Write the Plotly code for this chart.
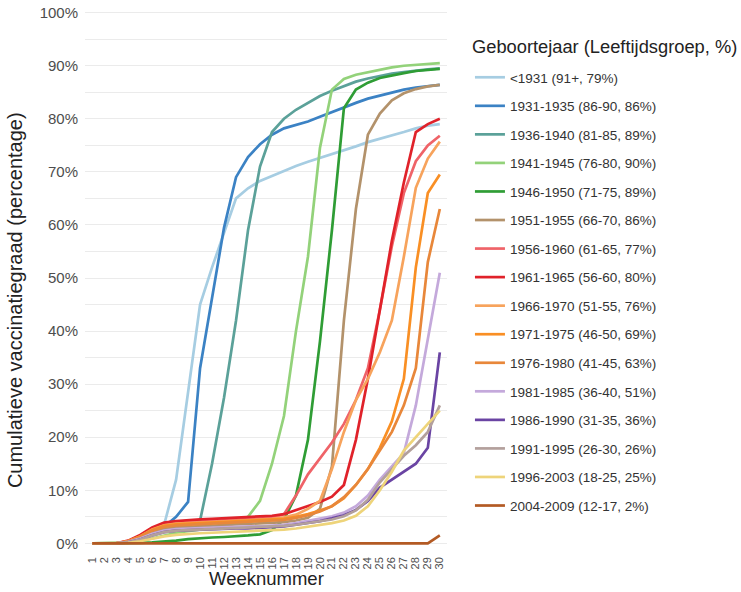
import plotly.graph_objects as go

weeks = list(range(1, 31))
week_labels = [str(w) for w in weeks]
y_ticks = list(range(0, 101, 10))
y_tick_labels = [f"{v}%" for v in y_ticks]

legend_title = "Geboortejaar (Leeftijdsgroep, %)"
series_names = [
    "<1931 (91+, 79%)",
    "1931-1935 (86-90, 86%)",
    "1936-1940 (81-85, 89%)",
    "1941-1945 (76-80, 90%)",
    "1946-1950 (71-75, 89%)",
    "1951-1955 (66-70, 86%)",
    "1956-1960 (61-65, 77%)",
    "1961-1965 (56-60, 80%)",
    "1966-1970 (51-55, 76%)",
    "1971-1975 (46-50, 69%)",
    "1976-1980 (41-45, 63%)",
    "1981-1985 (36-40, 51%)",
    "1986-1990 (31-35, 36%)",
    "1991-1995 (26-30, 26%)",
    "1996-2003 (18-25, 25%)",
    "2004-2009 (12-17, 2%)",
]

colors = [
    "#a6cde2", "#3b82c4", "#5ba199", "#93d27a", "#2f9d35", "#b3926b",
    "#ef6368", "#e0222a", "#f7a35c", "#f98f24", "#e8873a", "#c4a9db",
    "#6a44a3", "#b3a09c", "#eed47a", "#b35a24",
]

v_lt1931 = [0, 0, 0, 0.3, 1.0, 2.0, 3.5, 12, 29, 45, 52, 58.5, 65, 66.9, 68.3, 69.2, 70.2, 71.1, 71.9, 72.6, 73.3, 74, 74.8, 75.6, 76.2, 76.8, 77.5, 78.2, 78.7, 79]
v_1931 = [0, 0, 0, 0.3, 1.1, 2.1, 3.1, 5, 7.8, 33, 46.5, 59.5, 69, 72.8, 75.2, 77, 78.2, 78.8, 79.5, 80.4, 81.3, 82.2, 83, 83.8, 84.4, 85, 85.5, 85.9, 86.2, 86.4]
v_1936 = [0, 0, 0, 0.2, 0.8, 1.8, 2.6, 3.0, 3.4, 4.3, 15, 27.5, 42, 59, 71, 77.5, 80, 81.7, 83, 84.3, 85.3, 86.2, 87, 87.6, 88.1, 88.5, 88.8, 89.1, 89.3, 89.5]
v_1941 = [0, 0, 0, 0.1, 0.4, 0.9, 1.5, 2.0, 2.3, 2.6, 2.9, 3.2, 3.8, 5, 8, 15, 24, 40, 54, 74.5, 85.5, 87.5, 88.3, 88.8, 89.3, 89.7, 90, 90.2, 90.4, 90.5]
v_1946 = [0, 0, 0, 0, 0.1, 0.2, 0.3, 0.5, 0.8, 1.0, 1.1, 1.2, 1.3, 1.5, 1.7, 2.5, 4.5, 9, 19.5, 38, 59, 82, 85.5, 86.8, 87.7, 88.2, 88.6, 89, 89.2, 89.4]
v_1951 = [0, 0, 0, 0.3, 1.0, 2.0, 2.7, 3.0, 3.1, 3.2, 3.3, 3.4, 3.5, 3.6, 3.7, 3.8, 4.0, 4.3, 4.8, 6.5, 14.5, 42, 63, 77, 81, 83.5, 84.8, 85.6, 86.1, 86.4]
v_1956 = [0, 0, 0, 0.4, 1.3, 2.7, 3.5, 3.8, 4.0, 4.1, 4.2, 4.3, 4.4, 4.5, 4.6, 4.8, 5.5, 9, 13, 16, 19, 22.5, 27, 33, 44, 56, 66, 72, 75, 76.8]
v_1961 = [0, 0, 0, 0.5, 1.6, 3.0, 3.9, 4.2, 4.4, 4.5, 4.6, 4.7, 4.8, 4.9, 5.0, 5.2, 5.5, 6.3, 7.0, 7.8, 8.8, 11, 19.5, 31, 44, 57, 68, 77.5, 79, 80]
v_1966 = [0, 0, 0, 0.4, 1.3, 2.6, 3.4, 3.7, 3.8, 3.9, 4.0, 4.1, 4.2, 4.3, 4.4, 4.6, 4.9, 5.4, 6.5, 8, 14, 21, 27, 31, 36, 42, 54, 67, 72.5, 75.7]
v_1971 = [0, 0, 0, 0.4, 1.3, 2.5, 3.3, 3.6, 3.7, 3.8, 3.9, 4.0, 4.1, 4.2, 4.3, 4.4, 4.6, 5.0, 5.5, 6.2, 7, 8.5, 11, 14, 18, 23, 31, 52, 66, 69.5]
v_1976 = [0, 0, 0, 0.4, 1.2, 2.4, 3.1, 3.4, 3.5, 3.6, 3.7, 3.8, 3.9, 4.0, 4.1, 4.2, 4.4, 4.8, 5.3, 6, 7, 8.7, 11, 14, 17.5, 21, 26, 33, 53, 63]
v_1981 = [0, 0, 0, 0.3, 0.9, 1.8, 2.4, 2.7, 2.8, 2.9, 3.0, 3.1, 3.1, 3.2, 3.2, 3.3, 3.5, 3.8, 4.2, 4.6, 5.1, 5.8, 7, 9, 12, 14.5, 17, 26, 38.5, 51]
v_1986 = [0, 0, 0, 0.2, 0.7, 1.5, 2.1, 2.4, 2.5, 2.6, 2.7, 2.7, 2.8, 2.8, 2.9, 3.0, 3.2, 3.5, 3.8, 4.2, 4.7, 5.3, 6.3, 8, 10.5, 12, 13.5, 15, 18, 36]
v_1991 = [0, 0, 0, 0.2, 0.7, 1.5, 2.1, 2.4, 2.5, 2.6, 2.7, 2.8, 2.8, 2.9, 3.0, 3.1, 3.3, 3.5, 3.8, 4.1, 4.5, 5.1, 6.2, 8.2, 11.5, 14, 16.5, 18.5, 21, 26]
v_1996 = [0, 0, 0, 0.1, 0.4, 0.9, 1.3, 1.6, 1.8, 1.9, 2.0, 2.1, 2.2, 2.3, 2.3, 2.4, 2.6, 2.8, 3.1, 3.4, 3.8, 4.3, 5.2, 7, 10, 13.5, 17.5, 20, 22.5, 25]
v_2004 = [0, 0, 0, 0, 0, 0, 0, 0, 0, 0, 0, 0, 0, 0, 0, 0, 0, 0, 0, 0, 0, 0, 0, 0, 0, 0, 0, 0, 0, 1.5]

series_values = [v_lt1931, v_1931, v_1936, v_1941, v_1946, v_1951, v_1956, v_1961,
                 v_1966, v_1971, v_1976, v_1981, v_1986, v_1991, v_1996, v_2004]

FONT = "Liberation Sans, Arial, sans-serif"

fig = go.Figure()
for name, col, vals in zip(series_names, colors, series_values):
    fig.add_trace(go.Scatter(
        x=weeks, y=vals, mode="lines", name=name, legendgroup=name,
        line=dict(color=col, width=2.7),
    ))

fig.update_layout(
    width=741, height=592,
    margin=dict(l=85, r=294, t=10, b=46),
    paper_bgcolor="white", plot_bgcolor="white",
    font=dict(family=FONT, color="#333333"),
    showlegend=True,
    legend=dict(
        x=1.0634, xanchor="left", y=0.903, yanchor="top",
        font=dict(size=13.5, color="#333333"),
        tracegroupgap=8,
        bgcolor="rgba(0,0,0,0)",
    ),
    xaxis=dict(
        range=[0.4, 30.6], tickmode="array", tickvals=weeks, ticktext=week_labels,
        tickangle=-90, showgrid=False, zeroline=False, showline=False, ticks="",
        ticklabelstandoff=8,
        tickfont=dict(size=11, color="#4d4d4d"), automargin=False,
    ),
    yaxis=dict(
        range=[-0.5, 100.5], tickmode="array", tickvals=y_ticks, ticktext=y_tick_labels,
        showgrid=True, gridcolor="#ebebeb", gridwidth=1.2, zeroline=False, showline=False,
        ticks="", ticklabelstandoff=6, ticklabeloverflow="allow",
        tickfont=dict(size=15, color="#4d4d4d"), automargin=False,
        minor=dict(dtick=5, tick0=0, showgrid=True, gridcolor="#ebebeb", gridwidth=1.2, ticks=""),
    ),
    annotations=[
        dict(text="Weeknummer", xref="paper", yref="paper", x=0.5, y=-0.06,
             xanchor="center", yanchor="middle", showarrow=False,
             font=dict(size=18.5, color="#222222")),
        dict(text="Cumulatieve vaccinatiegraad (percentage)", xref="paper", yref="paper",
             x=-0.193, y=0.459, xanchor="center", yanchor="middle", textangle=-90,
             showarrow=False, font=dict(size=20, color="#222222")),
        dict(text=legend_title, xref="paper", yref="paper", x=1.064, y=0.931,
             xanchor="left", yanchor="middle", showarrow=False,
             font=dict(size=18.3, color="#222222")),
    ],
)

fig.write_html("out.html", config={"displayModeBar": False},
               post_script="document.body.style.margin='0px';")
